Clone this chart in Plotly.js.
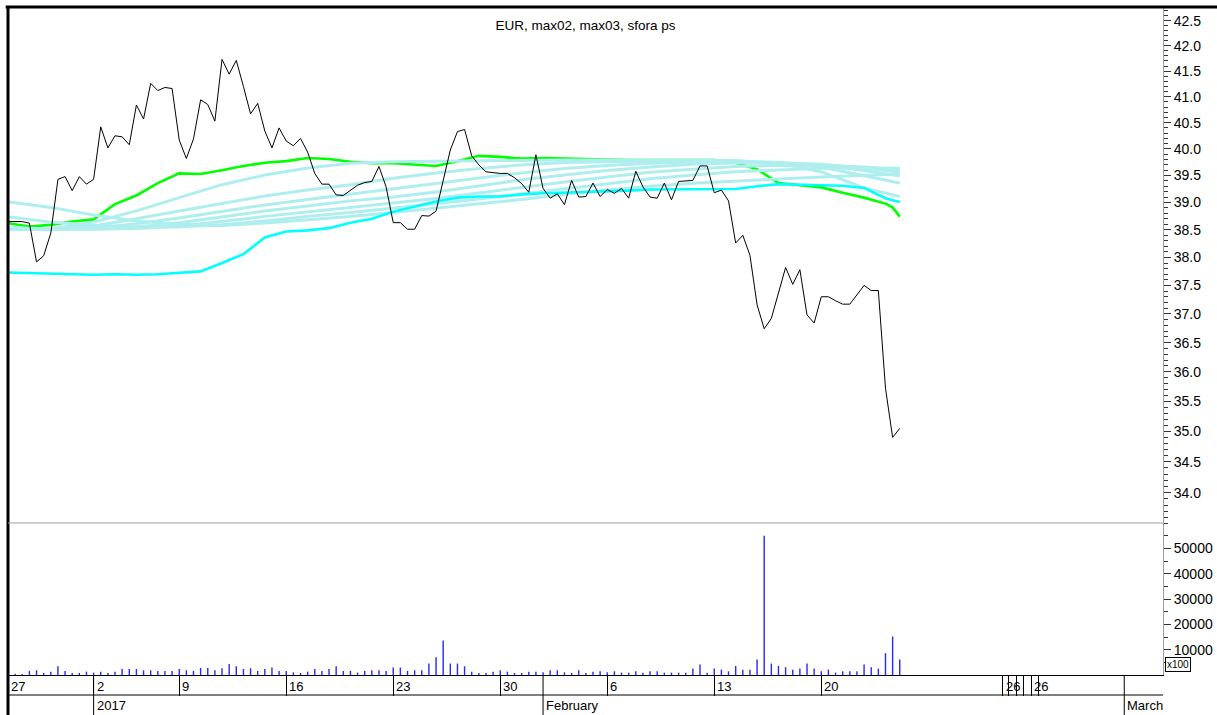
<!DOCTYPE html>
<html>
<head>
<meta charset="utf-8">
<script src="https://cdn.plot.ly/plotly-3.0.1.min.js"></script>
<style>
html,body{margin:0;padding:0;background:#fff;}
#chart{width:1217px;height:715px;}
</style>
</head>
<body>
<div id="chart"></div>
<script>
// ---------------- data ----------------
const chartTitle = 'EUR, max02, max03, sfora ps';

const tradingDays = [
  '2016-12-27','2016-12-28','2016-12-29','2016-12-30',
  '2017-01-02','2017-01-03','2017-01-04','2017-01-05',
  '2017-01-09','2017-01-10','2017-01-11','2017-01-12','2017-01-13',
  '2017-01-16','2017-01-17','2017-01-18','2017-01-19','2017-01-20',
  '2017-01-23','2017-01-24','2017-01-25','2017-01-26','2017-01-27',
  '2017-01-30','2017-01-31','2017-02-01','2017-02-02','2017-02-03',
  '2017-02-06','2017-02-07','2017-02-08','2017-02-09','2017-02-10',
  '2017-02-13','2017-02-14','2017-02-15','2017-02-16','2017-02-17',
  '2017-02-20','2017-02-21','2017-02-22','2017-02-23'
];
const sessionsPerDay = 3;

// price (3 readings per trading day)
const closePrice = [
  38.65,38.65,38.65,38.62,37.92,38.03,38.44,39.43,39.48,39.22,
  39.48,39.34,39.43,40.42,40.02,40.25,40.23,40.08,40.84,40.57,
  41.26,41.12,41.18,41.16,40.17,39.82,40.19,40.94,40.85,40.53,
  41.73,41.44,41.71,41.20,40.67,40.87,40.34,40.02,40.40,40.15,
  40.06,40.20,39.94,39.54,39.34,39.34,39.14,39.13,39.22,39.32,
  39.37,39.39,39.67,39.29,38.63,38.63,38.51,38.51,38.76,38.75,
  38.84,39.42,39.98,40.33,40.37,39.87,39.70,39.57,39.55,39.54,
  39.54,39.46,39.35,39.19,39.89,39.26,39.08,39.16,38.96,39.41,
  39.10,39.11,39.36,39.11,39.24,39.17,39.26,39.08,39.58,39.29,
  39.10,39.08,39.36,39.05,39.39,39.40,39.41,39.68,39.68,39.18,
  39.23,39.03,38.26,38.40,38.04,37.16,36.74,36.92,37.36,37.82,
  37.52,37.78,36.98,36.84,37.30,37.30,37.23,37.17,37.17,37.33,
  37.50,37.41,37.41,35.72,34.90,35.05
];

// volume (x100)
const volume = [
  400,530,270,1600,1860,800,1330,3460,1600,800,
  800,1330,930,1330,800,1330,2390,2390,2390,1860,
  1860,1600,1600,1600,2390,1860,1600,2790,2790,1860,
  2660,4390,3460,2390,2660,1600,2390,2930,1600,1600,
  1060,800,1330,2390,1600,2390,3460,1600,1600,930,
  1600,1860,1860,1600,2930,2930,1600,1860,1860,4520,
  7050,13570,4520,4520,3460,1330,800,800,1330,1860,
  1330,800,800,1330,1330,1060,1860,1860,1060,800,
  1860,800,1330,1460,1060,1460,930,930,1460,930,
  1460,1460,930,930,930,930,2520,4100,930,2520,
  2120,1460,3580,2120,2120,6100,55000,4500,3580,3050,
  2120,2520,4500,2520,1460,2120,930,1460,1460,1460,
  4100,3050,2520,8600,15200,6100
];

// green and cyan averages, read at these session indexes
const avgIdx = [0,3,6,9,12,15,18,21,24,27,30,33,36,39,42,45,48,51,54,57,60,63,66,69,72,75,78,81,84,87,90,93,96,99,102,105,108,111,114,117,120,123,124,125];
const greenAvg = [
  38.62,38.56,38.59,38.65,38.69,38.97,39.13,39.36,39.54,39.53,39.60,39.68,39.74,39.77,39.83,39.81,39.76,39.73,39.73,39.70,39.68,39.77,
  39.87,39.85,39.82,39.83,39.82,39.80,39.79,39.79,39.79,39.79,39.79,39.79,39.74,39.62,39.36,39.32,39.28,39.18,39.09,38.98,38.91,38.74
];
const cyanAvg = [
  37.73,37.72,37.70,37.70,37.69,37.70,37.69,37.70,37.73,37.75,37.90,38.06,38.36,38.47,38.49,38.53,38.63,38.70,38.83,38.92,39.02,39.09,
  39.11,39.11,39.15,39.17,39.18,39.19,39.20,39.22,39.24,39.24,39.24,39.24,39.25,39.30,39.34,39.33,39.32,39.31,39.27,39.08,39.04,39.01
];

// pale turquoise averages, read at these session indexes
const paleIdx = [0,6,12,18,24,30,36,42,48,54,60,66,72,78,84,90,96,102,108,114,120,125];
const pale1 = [38.50,38.515,38.64,38.845,39.09,39.33,39.51,39.64,39.73,39.76,39.77,39.78,39.79,39.79,39.79,39.79,39.79,39.78,39.73,39.57,39.27,39.11];
const pale2 = [38.51,38.515,38.57,38.70,38.845,38.98,39.12,39.23,39.33,39.45,39.55,39.63,39.70,39.745,39.76,39.77,39.78,39.77,39.745,39.66,39.49,39.36];
const pale3 = [38.515,38.51,38.53,38.61,38.715,38.835,38.955,39.055,39.15,39.25,39.35,39.455,39.55,39.63,39.69,39.73,39.755,39.755,39.745,39.70,39.595,39.49];
const pale4 = [38.525,38.51,38.515,38.55,38.63,38.735,38.845,38.935,39.03,39.10,39.195,39.305,39.42,39.51,39.595,39.66,39.71,39.735,39.735,39.71,39.64,39.56];
const pale5 = [38.54,38.515,38.51,38.525,38.57,38.65,38.745,38.825,38.91,38.985,39.075,39.175,39.28,39.38,39.475,39.56,39.62,39.67,39.69,39.69,39.66,39.605];
const pale6 = [38.74,38.64,38.58,38.55,38.55,38.59,38.66,38.745,38.815,38.89,38.975,39.065,39.16,39.26,39.355,39.44,39.51,39.57,39.605,39.635,39.64,39.635];
const pale7 = [39.015,38.91,38.77,38.66,38.60,38.58,38.625,38.68,38.745,38.815,38.89,38.975,39.055,39.15,39.23,39.30,39.355,39.39,39.435,39.475,39.51,39.53];

// axis ticks
const priceTicks = [34.0,34.5,35.0,35.5,36.0,36.5,37.0,37.5,38.0,38.5,39.0,39.5,40.0,40.5,41.0,41.5,42.0,42.5];
const volumeTicks = [10000,20000,30000,40000,50000];
const volumeUnit = 'x100';
// ticks drawn by the source program past the last session
const futureDayTickIdx = [139.42,140.25,141.34,142.33,143.44,144.38];
const futureDayTickText = ['26','','','','26',''];
const futureMonthTickIdx = [156.47];
const futureMonthTickText = ['March'];

// ---------------- build ----------------
const FONT = 'Liberation Sans, Arial, sans-serif';
const monthNames = ['January','February','March','April','May','June','July','August','September','October','November','December'];
const sessIdx = closePrice.map((_, i) => i);

const dayTickIdx = [], dayTickText = [], monTickIdx = [], monTickText = [];
tradingDays.forEach((s, d) => {
  const dt = new Date(s + 'T00:00:00Z');
  const prev = d ? new Date(tradingDays[d - 1] + 'T00:00:00Z') : null;
  if (!prev || dt.getUTCDay() < prev.getUTCDay()) {
    dayTickIdx.push(d * sessionsPerDay); dayTickText.push(String(dt.getUTCDate()));
  }
  if (prev && dt.getUTCFullYear() !== prev.getUTCFullYear()) {
    monTickIdx.push(d * sessionsPerDay); monTickText.push(String(dt.getUTCFullYear()));
  } else if (prev && dt.getUTCMonth() !== prev.getUTCMonth()) {
    monTickIdx.push(d * sessionsPerDay); monTickText.push(monthNames[dt.getUTCMonth()]);
  }
});
const allDayIdx = dayTickIdx.concat(futureDayTickIdx);
const allDayText = dayTickText.concat(futureDayTickText);
const allMonIdx = monTickIdx.concat(futureMonthTickIdx);
const allMonText = monTickText.concat(futureMonthTickText);

const W = 1217, H = 715;
const mL = 8, mR = 54, mT = 7, mB = 40;
const plotH = H - mT - mB;           // 668
const volFrac = 152 / plotH;          // volume panel share
const xr = [0, 161.9];

const traces = [];
traces.push({x: avgIdx, y: greenAvg, type: 'scatter', mode: 'lines', xaxis: 'x', yaxis: 'y',
  line: {color: '#00ff00', width: 2.6}, hoverinfo: 'skip'});
[pale7, pale6, pale5, pale4, pale3, pale2, pale1].forEach(p => {
  traces.push({x: paleIdx, y: p, type: 'scatter', mode: 'lines', xaxis: 'x', yaxis: 'y',
    line: {color: '#afeeee', width: 3}, hoverinfo: 'skip'});
});
traces.push({x: avgIdx, y: cyanAvg, type: 'scatter', mode: 'lines', xaxis: 'x', yaxis: 'y',
  line: {color: '#00ffff', width: 2.6}, hoverinfo: 'skip'});
traces.push({x: sessIdx, y: closePrice, type: 'scatter', mode: 'lines', xaxis: 'x', yaxis: 'y',
  line: {color: '#000000', width: 1}, hoverinfo: 'skip'});
traces.push({x: sessIdx, y: volume, type: 'bar', xaxis: 'x2', yaxis: 'y2', width: 0.2,
  marker: {color: '#2a2aff', line: {width: 0}}, hoverinfo: 'skip'});

const priceMinor = [];
for (let t = 336; t <= 427; t++) if (t % 5) priceMinor.push(t / 10);
const volMinor = [];
for (let v = 5000; v <= 60000; v += 5000) if (!volumeTicks.includes(v)) volMinor.push(v);

const shapes = [
  // top border
  {type: 'line', xref: 'paper', yref: 'paper', x0: -0.002, x1: (W - mL) / (W - mL - mR), y0: 1, y1: 1,
    line: {color: '#000', width: 3}},
  // left border
  {type: 'line', xref: 'paper', yref: 'paper', x0: 0, x1: 0, y0: 1, y1: -mB / plotH,
    line: {color: '#000', width: 3}},
  // panel separator
  {type: 'line', xref: 'paper', yref: 'paper', x0: 0, x1: 1, y0: volFrac, y1: volFrac,
    line: {color: '#a0a0a0', width: 1}},
  // row divider under day labels
  {type: 'line', xref: 'paper', yref: 'paper', x0: 0, x1: 1, y0: -20 / plotH, y1: -20 / plotH,
    line: {color: '#000', width: 1}}
];
allMonIdx.forEach(i => shapes.push({type: 'line', xref: 'x2', yref: 'paper', x0: i, x1: i, y0: 0, y1: -mB / plotH,
  line: {color: '#000', width: 1}}));

const annotations = [];
allDayIdx.forEach((i, n) => {
  if (!allDayText[n]) return;
  annotations.push({x: i, xref: 'x2', y: -11 / plotH, yref: 'paper', text: allDayText[n], showarrow: false,
    xanchor: 'left', yanchor: 'middle', xshift: 1, font: {family: FONT, size: 13, color: '#000'}});
});
allMonIdx.forEach((i, n) => {
  annotations.push({x: i, xref: 'x2', y: -30 / plotH, yref: 'paper', text: allMonText[n], showarrow: false,
    xanchor: 'left', yanchor: 'middle', xshift: 1, font: {family: FONT, size: 13, color: '#000'}});
});
annotations.push({x: 1, xref: 'paper', y: 11 / plotH, yref: 'paper', text: volumeUnit, showarrow: false,
  xanchor: 'left', yanchor: 'middle', xshift: 2, font: {family: FONT, size: 10, color: '#000'},
  bordercolor: '#000', borderwidth: 1, borderpad: 1, bgcolor: '#fff'});

const layout = {
  width: W, height: H,
  margin: {l: mL, r: mR, t: mT, b: mB, pad: 0},
  paper_bgcolor: '#fff', plot_bgcolor: '#fff',
  showlegend: false,
  font: {family: FONT, size: 14, color: '#000'},
  title: {text: chartTitle, x: 0.5, xref: 'paper', xanchor: 'center', y: 1 - 25 / H, yref: 'container',
    yanchor: 'middle', font: {family: FONT, size: 13.5, color: '#000'}},
  xaxis: {domain: [0, 1], range: xr, anchor: 'y', showticklabels: false, ticks: '', showline: false,
    showgrid: false, zeroline: false, fixedrange: true},
  xaxis2: {domain: [0, 1], range: xr, anchor: 'y2', tickmode: 'array', tickvals: allDayIdx,
    ticktext: allDayText, showticklabels: false, ticks: 'outside', ticklen: 20, tickwidth: 1, tickcolor: '#000',
    showline: true, linecolor: '#000', linewidth: 1, showgrid: false, zeroline: false, fixedrange: true},
  yaxis: {domain: [volFrac, 1], type: 'log', range: [Math.log10(33.516), Math.log10(42.777)], anchor: 'x',
    side: 'right', tickmode: 'array', tickvals: priceTicks, ticktext: priceTicks.map(v => v.toFixed(1)),
    ticks: 'outside', ticklen: 7, tickwidth: 1, tickcolor: '#333',
    minor: {tickmode: 'array', tickvals: priceMinor, ticks: 'outside', ticklen: 4, tickwidth: 1, tickcolor: '#333', showgrid: false},
    showline: true, linecolor: '#a0a0a0', linewidth: 1, showgrid: false, zeroline: false,
    tickfont: {family: FONT, size: 14, color: '#000'}, fixedrange: true},
  yaxis2: {domain: [0, volFrac], range: [0, 60000], anchor: 'x2', side: 'right', tickmode: 'array',
    tickvals: volumeTicks, ticktext: volumeTicks.map(String), ticks: 'outside', ticklen: 7, tickwidth: 1,
    tickcolor: '#333',
    minor: {tickmode: 'array', tickvals: volMinor, ticks: 'outside', ticklen: 4, tickwidth: 1, tickcolor: '#333', showgrid: false},
    showline: true, linecolor: '#a0a0a0', linewidth: 1, showgrid: false, zeroline: false,
    tickfont: {family: FONT, size: 14, color: '#000'}, fixedrange: true},
  shapes: shapes,
  annotations: annotations
};

Plotly.newPlot('chart', traces, layout, {staticPlot: true, displayModeBar: false});
</script>
</body>
</html>
